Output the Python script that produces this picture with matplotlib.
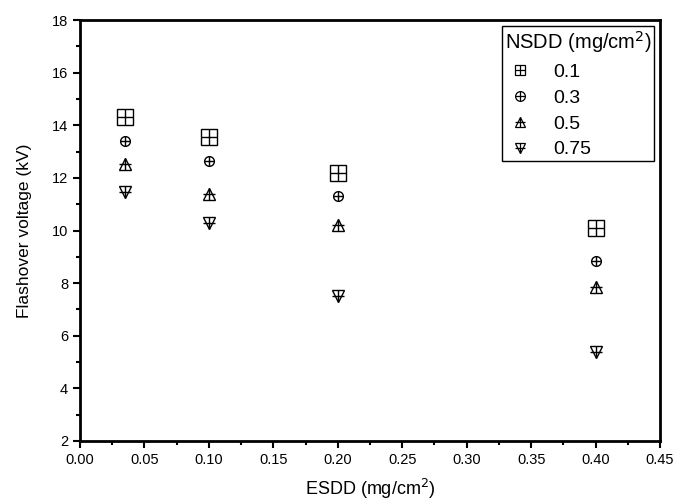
import numpy as np
import matplotlib.pyplot as plt
from matplotlib.lines import Line2D
from matplotlib.legend_handler import HandlerTuple
from matplotlib.ticker import MultipleLocator

plt.rcParams['font.family'] = ['Liberation Sans', 'DejaVu Sans']

esdd = [0.035, 0.1, 0.2, 0.4]
nsdd_labels = ['0.1', '0.3', '0.5', '0.75']
v_01 = [14.3, 13.55, 12.2, 10.1]
v_03 = [13.4, 12.65, 11.3, 8.85]
v_05 = [12.55, 11.4, 10.2, 7.85]
v_075 = [11.45, 10.3, 7.5, 5.4]
series = [v_01, v_03, v_05, v_075]

shapes = ['s', 'o', '^', 'v']
sizes = [11, 7, 9, 9]

fig = plt.figure(figsize=(6.77, 5.04), dpi=100)
ax = fig.add_axes([0.118, 0.125, 0.857, 0.835])

handles = []
for vals, m, ms in zip(series, shapes, sizes):
    ax.plot(esdd, vals, linestyle='none', marker=m, ms=ms, mfc='none', mec='black', mew=1.0)
    ax.plot(esdd, vals, linestyle='none', marker='+', ms=ms, mec='black', mew=1.0)
    h1 = Line2D([], [], linestyle='none', marker=m, ms=7, mfc='none', mec='black', mew=0.9)
    h2 = Line2D([], [], linestyle='none', marker='+', ms=7, mec='black', mew=0.9)
    handles.append((h1, h2))

ax.set_xlim(0, 0.45)
ax.set_ylim(2, 18)
ax.xaxis.set_major_locator(MultipleLocator(0.05))
ax.xaxis.set_minor_locator(MultipleLocator(0.025))
ax.yaxis.set_major_locator(MultipleLocator(2))
ax.yaxis.set_minor_locator(MultipleLocator(1))
ax.xaxis.set_major_formatter(plt.FormatStrFormatter('%.2f'))
ax.tick_params(which='both', direction='out', width=1.5, labelsize=10.5, top=False, right=False)
ax.tick_params(which='major', length=5)
ax.tick_params(which='minor', length=3)
for s in ax.spines.values():
    s.set_linewidth(2)

ax.set_xlabel('ESDD (mg/cm$^2$)', fontsize=13, labelpad=7)
ax.set_ylabel('Flashover voltage (kV)', fontsize=12.5, labelpad=14)

leg = ax.legend(handles, nsdd_labels, handler_map={tuple: HandlerTuple(ndivide=1)},
                title='NSDD (mg/cm$^2$)', loc='upper right', bbox_to_anchor=(0.99, 0.985),
                fontsize=14, title_fontsize=14.5, fancybox=False, edgecolor='black',
                framealpha=1, handlelength=1.6, handletextpad=0.9, borderpad=0.15,
                labelspacing=0.42, borderaxespad=0)
leg.get_frame().set_linewidth(1.0)
leg._legend_box.align = 'left'

plt.savefig('out.png', dpi=100)
